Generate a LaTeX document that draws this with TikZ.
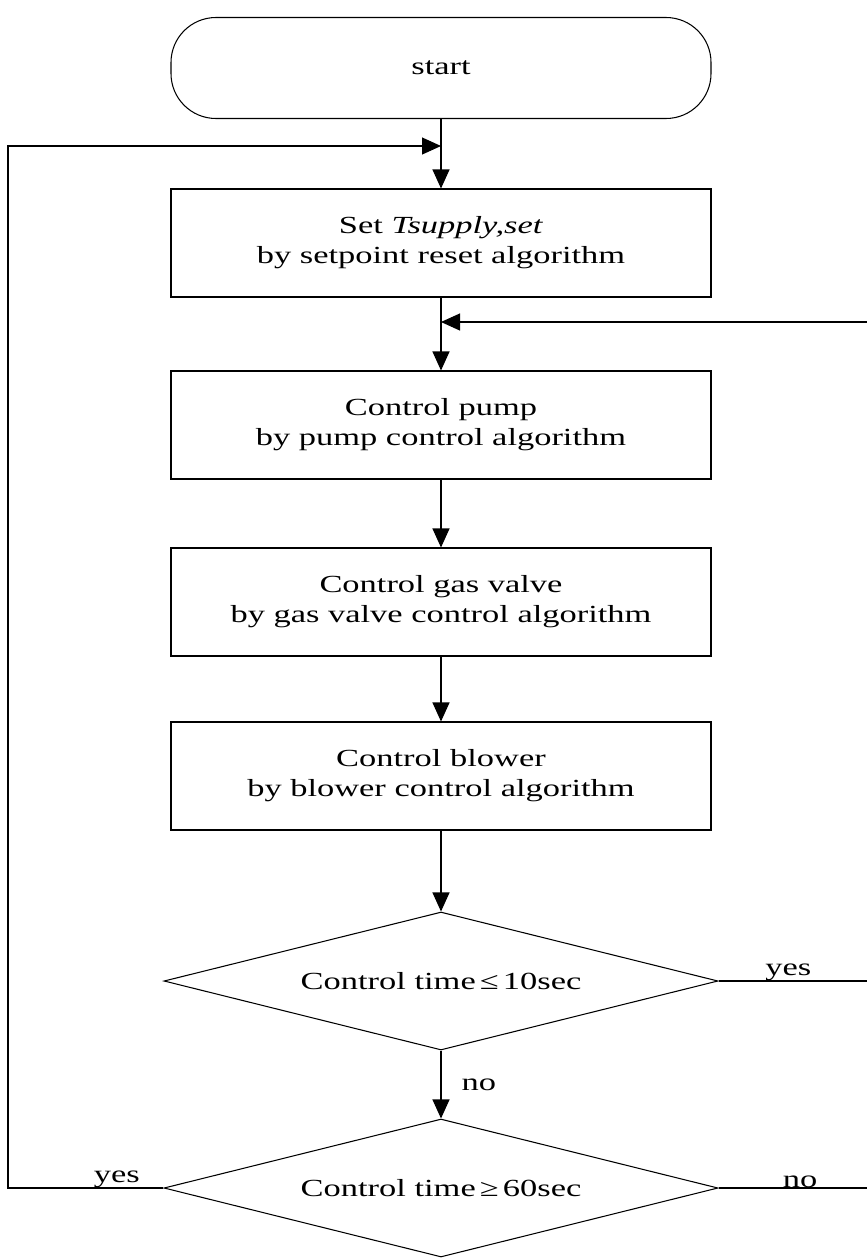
\documentclass[tikz,border=0pt]{standalone}
\usepackage{fontspec}
\setmainfont{Liberation Serif}[FakeStretch=1.4]
\usetikzlibrary{arrows.meta,shapes.geometric}

\begin{document}
\begin{tikzpicture}[x=0.2mm, y=-0.2mm, line width=0.6pt]
	\tikzstyle{every node}+=[inner sep=0pt, font=\fontsize{14}{17}\selectfont]
	\tikzstyle{term}=[draw, rounded corners=0.9cm, minimum width=10.8cm, minimum height=2.02cm]
	\tikzstyle{stepbox}=[draw, minimum width=10.8cm, minimum height=2.16cm, align=center]
	\tikzstyle{test}=[draw, diamond, aspect=4, minimum width=11.08cm, minimum height=2.76cm]
	\tikzstyle{flow}=[-{Triangle[length=0.38cm,width=0.34cm]}]
	\useasboundingbox (0,0) rectangle (867,1260);
	\node[term] (start) at (441,68) {start};
	\node[stepbox] (reset) at (441,243) {Set \textit{Tsupply,set}\\by setpoint reset algorithm};
	\node[stepbox] (pump) at (441,425) {Control pump\\by pump control algorithm};
	\node[stepbox] (valve) at (441,602) {Control gas valve\\by gas valve control algorithm};
	\node[stepbox] (blower) at (441,776) {Control blower\\by blower control algorithm};
	\node[test] (short) at (441,981) {Control time\,≤\,10sec};
	\node[test] (long) at (441,1188) {Control time\,≥\,60sec};
	\coordinate (in1) at (441,146);
	\coordinate (in2) at (441,322);
	\coordinate (lside) at (8,1188);
	\coordinate (rtop) at (867,322);
	\coordinate (rmid) at (867,981);
	\coordinate (rbot) at (867,1188);
	% main flow
	\draw (start) -- (in1);
	\draw[flow] (in1) -- (reset);
	\draw (reset) -- (in2);
	\draw[flow] (in2) -- (pump);
	\draw[flow] (pump) -- (valve);
	\draw[flow] (valve) -- (blower);
	\draw[flow] (blower) -- (short);
	\draw[flow] (short) -- node[right=0.4cm] {no} (long);
	% loops
	\draw[flow] (long.west) -- node[pos=0.3, above] {yes} (lside) |- (in1);
	\draw (short.east) -- node[pos=0.47, above] {yes} (rmid);
	\draw (long.east) -- node[pos=0.55, above] {no} (rbot);
	\draw[flow] (rtop) -- (in2);
\end{tikzpicture}
\end{document}
